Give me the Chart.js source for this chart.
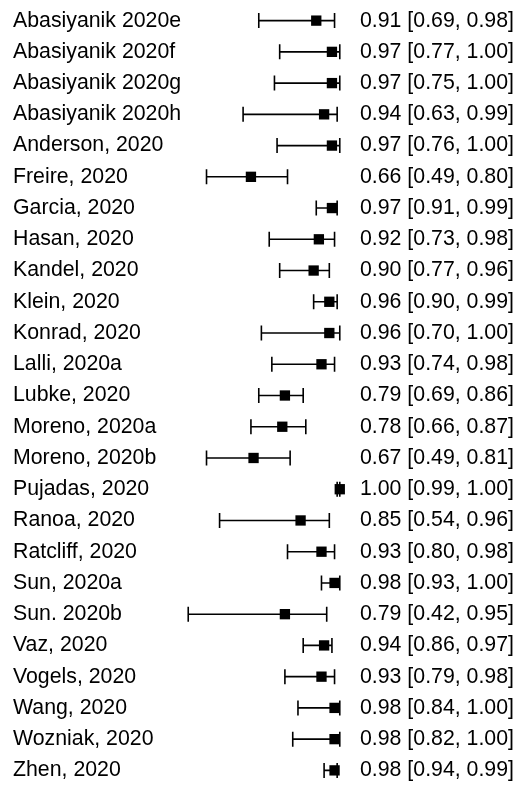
<!DOCTYPE html>
<html>
<head>
<meta charset="utf-8">
<style>
  html, body { margin: 0; padding: 0; background: #fff; overflow: hidden; }
  #wrap { position: relative; width: 517px; height: 787px; }
</style>
<script src="https://cdn.jsdelivr.net/npm/chart.js@4/dist/chart.umd.min.js"></script>
</head>
<body>
<div id="wrap"><canvas id="forest"></canvas></div>
<script>
// Study labels, point estimates and 95% confidence limits
const studies = [
  'Abasiyanik 2020e', 'Abasiyanik 2020f', 'Abasiyanik 2020g', 'Abasiyanik 2020h',
  'Anderson, 2020', 'Freire, 2020', 'Garcia, 2020', 'Hasan, 2020', 'Kandel, 2020',
  'Klein, 2020', 'Konrad, 2020', 'Lalli, 2020a', 'Lubke, 2020', 'Moreno, 2020a',
  'Moreno, 2020b', 'Pujadas, 2020', 'Ranoa, 2020', 'Ratcliff, 2020', 'Sun, 2020a',
  'Sun. 2020b', 'Vaz, 2020', 'Vogels, 2020', 'Wang, 2020', 'Wozniak, 2020', 'Zhen, 2020'
];
const estimates = [0.91, 0.97, 0.97, 0.94, 0.97, 0.66, 0.97, 0.92, 0.90, 0.96, 0.96, 0.93, 0.79,
                   0.78, 0.67, 1.00, 0.85, 0.93, 0.98, 0.79, 0.94, 0.93, 0.98, 0.98, 0.98];
const lower = [0.69, 0.77, 0.75, 0.63, 0.76, 0.49, 0.91, 0.73, 0.77, 0.90, 0.70, 0.74, 0.69,
               0.66, 0.49, 0.99, 0.54, 0.80, 0.93, 0.42, 0.86, 0.79, 0.84, 0.82, 0.94];
const upper = [0.98, 1.00, 1.00, 0.99, 1.00, 0.80, 0.99, 0.98, 0.96, 0.99, 1.00, 0.98, 0.86,
               0.87, 0.81, 1.00, 0.96, 0.98, 1.00, 0.95, 0.97, 0.98, 1.00, 1.00, 0.99];

const ciLabels = estimates.map((e, i) =>
  e.toFixed(2) + ' [' + lower[i].toFixed(2) + ', ' + upper[i].toFixed(2) + ']');

const points = estimates.map((e, i) => ({ x: e, y: studies[i], lo: lower[i], hi: upper[i] }));

const FONT = { family: 'Arial, "Liberation Sans", sans-serif', size: 21.3 };

// Draws the confidence interval whiskers with end caps under each box
const whiskers = {
  id: 'whiskers',
  beforeDatasetsDraw(chart) {
    const { ctx, scales } = chart;
    const xs = scales.x, ys = scales.y;
    const cap = 7.5;
    ctx.save();
    ctx.strokeStyle = '#000';
    ctx.lineWidth = 1.6;
    points.forEach(p => {
      const y = ys.getPixelForValue(studies.indexOf(p.y));
      const x0 = xs.getPixelForValue(p.lo);
      const x1 = xs.getPixelForValue(p.hi);
      ctx.beginPath();
      ctx.moveTo(x0, y); ctx.lineTo(x1, y);
      ctx.moveTo(x0, y - cap); ctx.lineTo(x0, y + cap);
      ctx.moveTo(x1, y - cap); ctx.lineTo(x1, y + cap);
      ctx.stroke();
    });
    ctx.restore();
  }
};

// Fixed label-column widths; no extra label padding above/below the rows
function fitColumn(width) {
  return function (scale) {
    scale.width = width;
    scale.paddingTop = 0;
    scale.paddingBottom = 0;
  };
}

new Chart(document.getElementById('forest'), {
  type: 'scatter',
  data: {
    datasets: [{
      data: points,
      pointStyle: 'rect',
      pointRadius: 7.3,
      pointHoverRadius: 7.3,
      backgroundColor: '#000',
      borderColor: '#000',
      borderWidth: 0,
      yAxisID: 'y'
    }]
  },
  options: {
    responsive: true,
    maintainAspectRatio: false,
    animation: false,
    events: [],
    layout: { autoPadding: false, padding: { left: 13, top: 5, right: 0, bottom: 1 } },
    plugins: { legend: { display: false }, tooltip: { enabled: false } },
    scales: {
      x: {
        type: 'linear',
        min: 0.40,
        max: 1.02,
        display: false
      },
      y: {
        type: 'category',
        labels: studies,
        offset: true,
        position: 'left',
        grid: { display: false, drawTicks: false },
        border: { display: false },
        ticks: {
          autoSkip: false,
          crossAlign: 'far',
          padding: 0,
          color: '#000',
          font: FONT
        },
        afterFit: fitColumn(170)
      },
      yRight: {
        type: 'category',
        labels: ciLabels,
        offset: true,
        position: 'right',
        grid: { display: false, drawTicks: false },
        border: { display: false },
        ticks: {
          autoSkip: false,
          crossAlign: 'near',
          padding: 15,
          color: '#000',
          font: FONT
        },
        afterFit: fitColumn(172)
      }
    }
  },
  plugins: [whiskers]
});
</script>
</body>
</html>
